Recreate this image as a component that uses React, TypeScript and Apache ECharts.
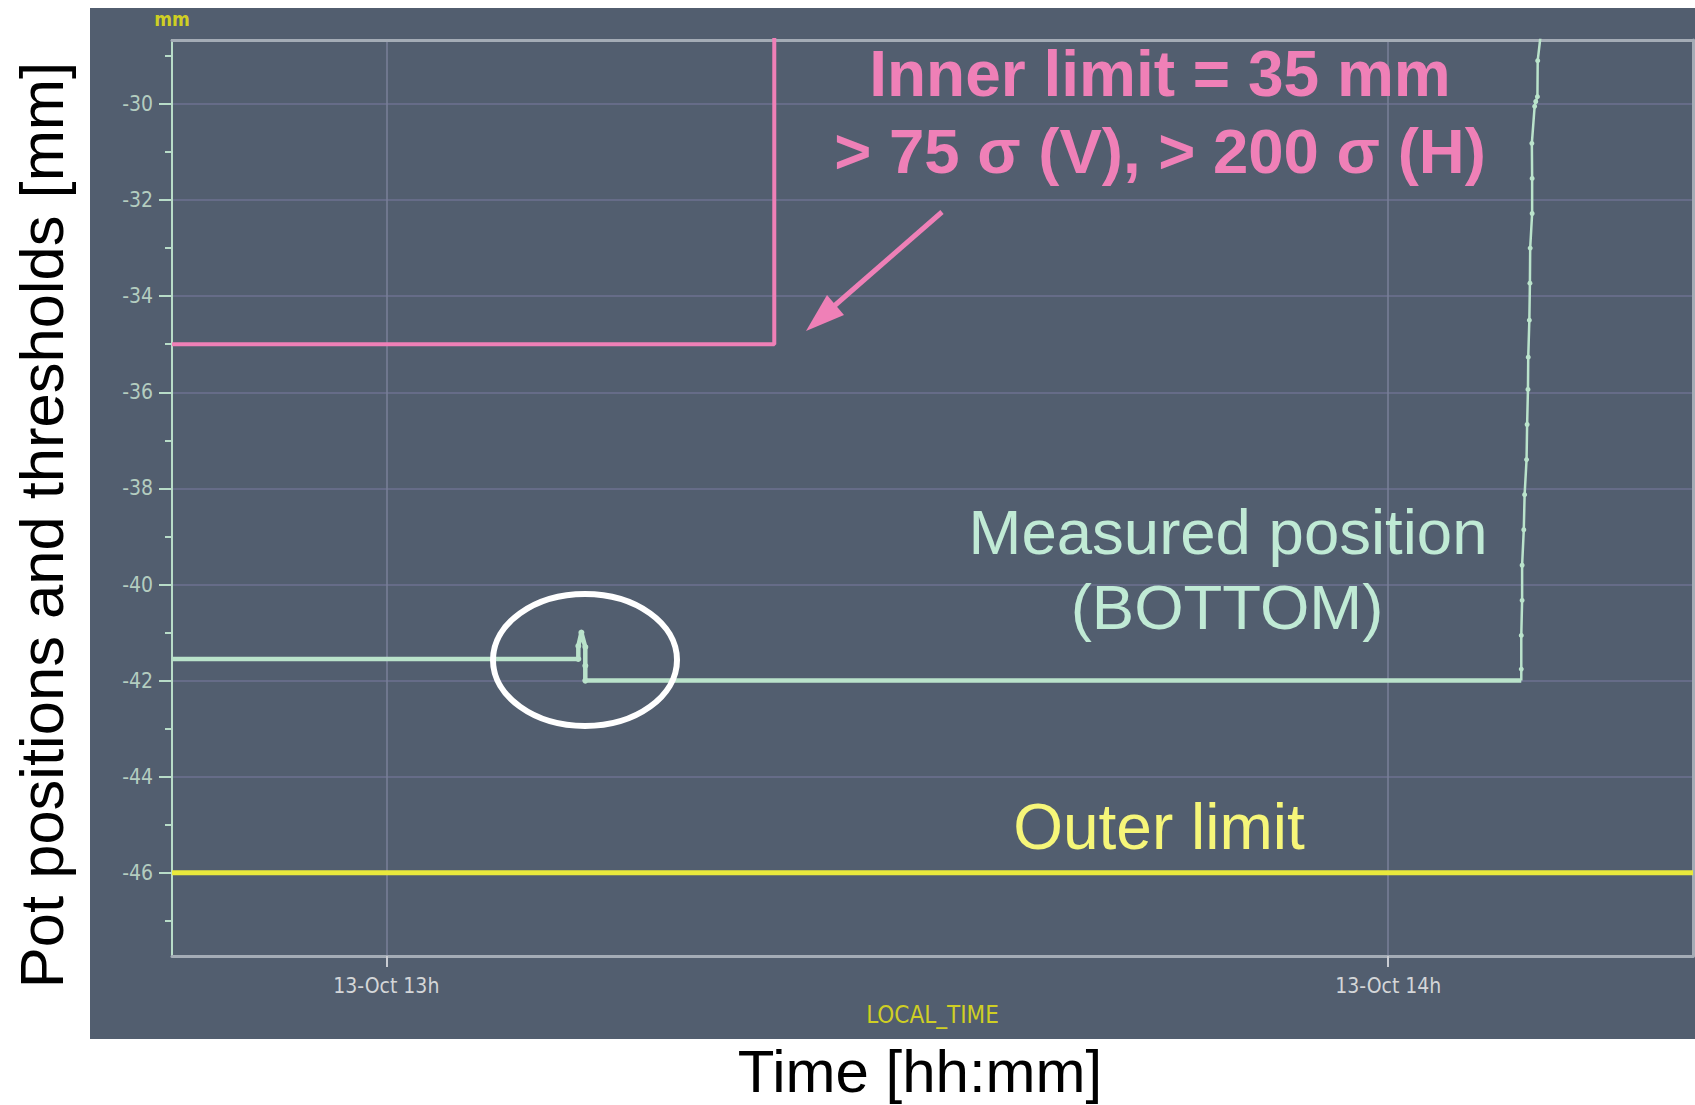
import React, { useEffect, useRef } from "react";
import * as echarts from "echarts";

// Local time "HH:MM:SS" -> minutes since midnight
const t = (hms: string): number => {
  const [h, m, s] = hms.split(":").map(Number);
  return h * 60 + m + (s || 0) / 60;
};

// Axis window
const timeStart = "12:47:10";
const timeEnd = "14:18:15";
const hourTicks = ["13:00:00", "14:00:00"];
const mmTicks = [-46, -44, -42, -40, -38, -36, -34, -32, -30];
const mmMin = -47.73;
const mmMax = -28.67;

// Inner limit threshold (opened at 13:23)
const innerTime = [timeStart, "13:23:14", "13:23:14"];
const innerMm = [-35, -35, -20];

// Outer limit threshold
const outerTime = [timeStart, timeEnd];
const outerMm = [-46, -46];

// Measured BOTTOM pot position: parked, small jump, new parking position
const parkTime = [timeStart, "13:11:30", "13:11:30", "13:11:41", "13:11:55", "13:11:55", "13:11:55", "14:07:58"];
const parkMm = [-41.55, -41.55, -41.28, -41.0, -41.3, -41.69, -42.0, -42.0];

// Measured BOTTOM pot position: retraction
const riseTime = [
  "14:07:58", "14:07:58", "14:07:58", "14:08:01", "14:08:01", "14:08:07", "14:08:10",
  "14:08:17", "14:08:19", "14:08:22", "14:08:23", "14:08:27", "14:08:29", "14:08:30",
  "14:08:37", "14:08:37", "14:08:36", "14:08:46", "14:08:50", "14:08:56", "14:08:57", "14:09:09",
];
const riseMm = [
  -42.0, -41.76, -41.06, -40.33, -39.6, -38.86, -38.13,
  -37.4, -36.67, -35.94, -35.27, -34.5, -33.73, -33.0,
  -32.28, -31.55, -30.82, -30.05, -29.95, -29.85, -29.1, -28.5,
];

const pairs = (xs: string[], ys: number[]) => xs.map((x, i) => [t(x), ys[i]]);

const axisFont = "'DejaVu Sans Condensed', 'DejaVu Sans', sans-serif";
const slideFont = "'Liberation Sans', Arial, Helvetica, sans-serif";

const PANEL = "#525e6f";
const GRIDLINE = "#6e7290";
const BORDER = "#a4acb6";
const AXIS_GREEN = "#b8dcc8";
const MEAS = "#bae3cb";
const PINK = "#ef80b7";
const YELLOW = "#e9e93c";
const LABEL_YELLOW = "#cfcf24";

const hourLabel = (v: number) => `13-Oct ${Math.round(v / 60)}h`;

const buildOption = () => ({
  animation: false,
  backgroundColor: "#ffffff",
  grid: { left: 172, right: 2, top: 40, bottom: 149, containLabel: false },
  xAxis: [
    {
      type: "value",
      min: t(timeStart),
      max: t(timeEnd),
      minInterval: 60,
      maxInterval: 60,
      name: "LOCAL_TIME",
      nameLocation: "middle",
      nameGap: 47,
      nameTextStyle: { color: LABEL_YELLOW, fontSize: 24, fontFamily: axisFont },
      axisLine: { show: true, onZero: false, lineStyle: { color: BORDER, width: 3 } },
      axisTick: {
        show: true,
        length: 11,
        customValues: hourTicks.map(t),
        lineStyle: { color: "#c9ccd2", width: 2 },
      },
      axisLabel: {
        customValues: hourTicks.map(t),
        formatter: hourLabel,
        margin: 19,
        color: "#d4d6d8",
        fontSize: 21,
        fontFamily: axisFont,
      },
      splitLine: { show: true, lineStyle: { color: "#7a8098", width: 1.5 } },
    },
    {
      type: "value",
      position: "top",
      min: t(timeStart),
      max: t(timeEnd),
      axisLine: { show: true, onZero: false, lineStyle: { color: BORDER, width: 3 } },
      axisTick: { show: false },
      axisLabel: { show: false },
      splitLine: { show: false },
    },
  ],
  yAxis: [
    {
      type: "value",
      min: mmMin,
      max: mmMax,
      splitNumber: 10,
      minInterval: 2,
      maxInterval: 2,
      name: "mm",
      nameLocation: "end",
      nameGap: 12,
      nameTextStyle: {
        color: LABEL_YELLOW,
        fontSize: 19,
        fontWeight: "bold",
        fontFamily: axisFont,
        align: "center",
        verticalAlign: "bottom",
      },
      axisLine: { show: true, onZero: false, lineStyle: { color: AXIS_GREEN, width: 2 } },
      axisTick: { show: true, length: 13, customValues: mmTicks, lineStyle: { color: AXIS_GREEN, width: 2 } },
      minorTick: { show: true, splitNumber: 2, length: 7, lineStyle: { color: AXIS_GREEN, width: 2 } },
      axisLabel: {
        customValues: mmTicks,
        margin: 19,
        color: "#b4cdc0",
        fontSize: 21,
        fontFamily: axisFont,
      },
      splitLine: { show: true, lineStyle: { color: GRIDLINE, width: 1.5 } },
    },
    {
      type: "value",
      position: "right",
      min: mmMin,
      max: mmMax,
      axisLine: { show: true, onZero: false, lineStyle: { color: BORDER, width: 3 } },
      axisTick: { show: false },
      axisLabel: { show: false },
      splitLine: { show: false },
    },
  ],
  series: [
    {
      name: "Outer limit",
      type: "line",
      data: pairs(outerTime, outerMm),
      showSymbol: false,
      lineStyle: { color: YELLOW, width: 5 },
      z: 3,
    },
    {
      name: "Inner limit",
      type: "line",
      data: pairs(innerTime, innerMm),
      showSymbol: false,
      lineStyle: { color: PINK, width: 4 },
      z: 3,
    },
    {
      name: "Measured position (parked)",
      type: "line",
      data: pairs(parkTime, parkMm).map((p, i) =>
        i === 0 || i === parkTime.length - 1 ? { value: p, symbol: "none" } : { value: p }
      ),
      symbol: "circle",
      symbolSize: 6,
      itemStyle: { color: MEAS },
      lineStyle: { color: MEAS, width: 4.5 },
      z: 4,
    },
    {
      name: "Measured position (retraction)",
      type: "line",
      data: pairs(riseTime, riseMm).map((p, i) =>
        i === 0 || i === riseTime.length - 1 ? { value: p, symbol: "none" } : { value: p }
      ),
      symbol: "circle",
      symbolSize: 5,
      itemStyle: { color: MEAS },
      lineStyle: { color: MEAS, width: 2.5 },
      z: 4,
    },
  ],
  graphic: {
    elements: [
      {
        type: "rect",
        z: -100,
        silent: true,
        shape: { x: 90, y: 8, width: 1605, height: 1031 },
        style: { fill: PANEL },
      },
      {
        type: "text",
        z: 100,
        x: 1160,
        y: 74,
        style: {
          text: "Inner limit = 35 mm",
          fill: PINK,
          font: `bold 64px ${slideFont}`,
          textAlign: "center",
          textVerticalAlign: "middle",
        },
      },
      {
        type: "text",
        z: 100,
        x: 1160,
        y: 151,
        style: {
          text: "> 75 σ (V), > 200 σ (H)",
          fill: PINK,
          font: `bold 63.5px ${slideFont}`,
          textAlign: "center",
          textVerticalAlign: "middle",
        },
      },
      {
        type: "line",
        z: 100,
        shape: { x1: 942, y1: 212, x2: 833, y2: 307 },
        style: { stroke: PINK, lineWidth: 5 },
      },
      {
        type: "polygon",
        z: 100,
        shape: { points: [[806, 331], [844, 315], [827, 295]] },
        style: { fill: PINK },
      },
      {
        type: "text",
        z: 100,
        x: 1228,
        y: 532,
        style: {
          text: "Measured position",
          fill: "#c0ead5",
          font: `63.5px ${slideFont}`,
          textAlign: "center",
          textVerticalAlign: "middle",
        },
      },
      {
        type: "text",
        z: 100,
        x: 1227,
        y: 607,
        style: {
          text: "(BOTTOM)",
          fill: "#c0ead5",
          font: `63.5px ${slideFont}`,
          textAlign: "center",
          textVerticalAlign: "middle",
        },
      },
      {
        type: "text",
        z: 100,
        x: 1159,
        y: 827,
        style: {
          text: "Outer limit",
          fill: "#f6f679",
          font: `64px ${slideFont}`,
          textAlign: "center",
          textVerticalAlign: "middle",
        },
      },
      {
        type: "ellipse",
        z: 100,
        shape: { cx: 585, cy: 660, rx: 92, ry: 66 },
        style: { fill: "none", stroke: "#ffffff", lineWidth: 6 },
      },
      {
        type: "text",
        z: 100,
        x: 920,
        y: 1071,
        style: {
          text: "Time [hh:mm]",
          fill: "#000000",
          font: `60px ${slideFont}`,
          textAlign: "center",
          textVerticalAlign: "middle",
        },
      },
      {
        type: "text",
        z: 100,
        x: 41,
        y: 525,
        rotation: Math.PI / 2,
        style: {
          text: "Pot positions and thresholds [mm]",
          fill: "#000000",
          font: `61.5px ${slideFont}`,
          textAlign: "center",
          textVerticalAlign: "middle",
        },
      },
    ],
  },
});

export default function App() {
  const ref = useRef<HTMLDivElement>(null);
  useEffect(() => {
    if (!ref.current) return;
    const chart = echarts.init(ref.current, null, { renderer: "svg" });
    chart.setOption(buildOption());
    return () => chart.dispose();
  }, []);
  return (
    <div
      ref={ref}
      style={{ position: "absolute", left: 0, top: 0, width: 1695, height: 1105 }}
    />
  );
}
